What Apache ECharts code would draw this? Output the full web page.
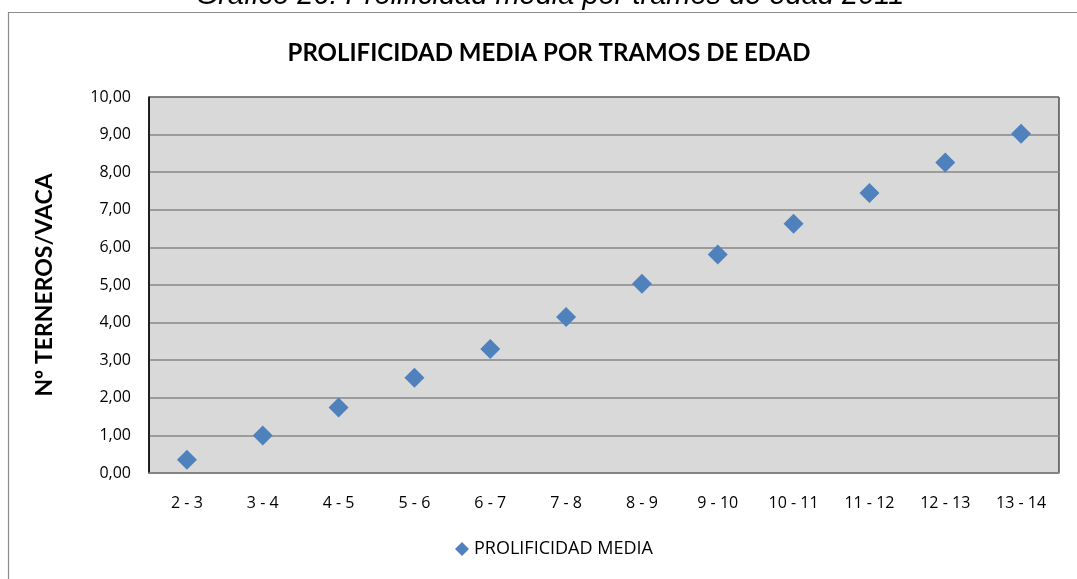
<!DOCTYPE html>
<html>
<head>
<meta charset="utf-8">
<script src="https://cdn.jsdelivr.net/npm/echarts@6/dist/echarts.min.js"></script>
<style>
  html, body { margin: 0; padding: 0; background: #fff; }
  #main { width: 1077px; height: 579px; }
</style>
</head>
<body>
<div id="main"></div>
<script>
// datos
const tramos = ['2 - 3', '3 - 4', '4 - 5', '5 - 6', '6 - 7', '7 - 8', '8 - 9', '9 - 10', '10 - 11', '11 - 12', '12 - 13', '13 - 14'];
const prolificidad = [0.35, 1.00, 1.74, 2.53, 3.30, 4.15, 5.03, 5.81, 6.63, 7.45, 8.26, 9.02];
const serieNombre = 'PROLIFICIDAD MEDIA';
const titulo = 'PROLIFICIDAD MEDIA POR TRAMOS DE EDAD';
const leyendaGrafico = 'Gráfico 26: Prolificidad media por tramos de edad 2011';

const chart = echarts.init(document.getElementById('main'));

const option = {
  animation: false,
  backgroundColor: '#fff',
  graphic: [
    {
      type: 'rect',
      shape: { x: 8.5, y: 12.5, width: 1100, height: 600 },
      style: { fill: 'none', stroke: '#8c8c8c', lineWidth: 1.2 },
      z: 0
    },
    {
      // pie de figura del documento, cortado arriba
      type: 'text',
      x: 550, y: 10,
      style: {
        text: leyendaGrafico,
        font: 'italic 29px "Liberation Sans", Arial, sans-serif',
        fill: '#000',
        align: 'center',
        verticalAlign: 'bottom'
      }
    },
    {
      type: 'text',
      x: 549, y: 53,
      style: {
        text: titulo,
        font: 'bold 24px Lato, "Open Sans", sans-serif',
        fill: '#000',
        align: 'center',
        verticalAlign: 'middle'
      }
    }
  ],
  legend: {
    bottom: 16,
    left: 450,
    itemWidth: 14,
    itemHeight: 14,
    itemGap: 6,
    icon: 'diamond',
    textStyle: { fontFamily: '"Open Sans", sans-serif', fontSize: 18, color: '#000' },
    data: [serieNombre]
  },
  grid: {
    left: 149,
    top: 97,
    right: 18,
    bottom: 106,
    show: true,
    backgroundColor: '#d9d9d9',
    borderColor: '#000',
    borderWidth: 1
  },
  xAxis: {
    type: 'category',
    data: tramos,
    boundaryGap: true,
    axisLine: { lineStyle: { color: '#868686', width: 1.5 } },
    axisTick: { show: false },
    axisLabel: {
      margin: 22,
      fontFamily: '"Open Sans", sans-serif',
      fontSize: 16,
      color: '#000'
    }
  },
  yAxis: {
    type: 'value',
    min: 0,
    max: 10,
    interval: 1,
    name: 'Nº TERNEROS/VACA',
    nameLocation: 'middle',
    nameGap: 93,
    nameRotate: 90,
    nameTextStyle: {
      fontFamily: 'Lato, "Open Sans", sans-serif',
      fontWeight: 'bold',
      fontSize: 23,
      color: '#000'
    },
    axisLine: { show: true, lineStyle: { color: '#000', width: 1.5 } },
    axisTick: { show: false },
    axisLabel: {
      margin: 18,
      fontFamily: '"Open Sans", sans-serif',
      fontSize: 16,
      color: '#000',
      formatter: v => v.toFixed(2).replace('.', ',')
    },
    splitLine: { lineStyle: { color: '#868686', width: 1.5 } }
  },
  series: [
    {
      name: serieNombre,
      type: 'scatter',
      data: prolificidad,
      symbol: 'diamond',
      symbolSize: 20,
      itemStyle: { color: '#4f81bd', opacity: 1 }
    }
  ]
};

chart.setOption(option);
</script>
</body>
</html>
